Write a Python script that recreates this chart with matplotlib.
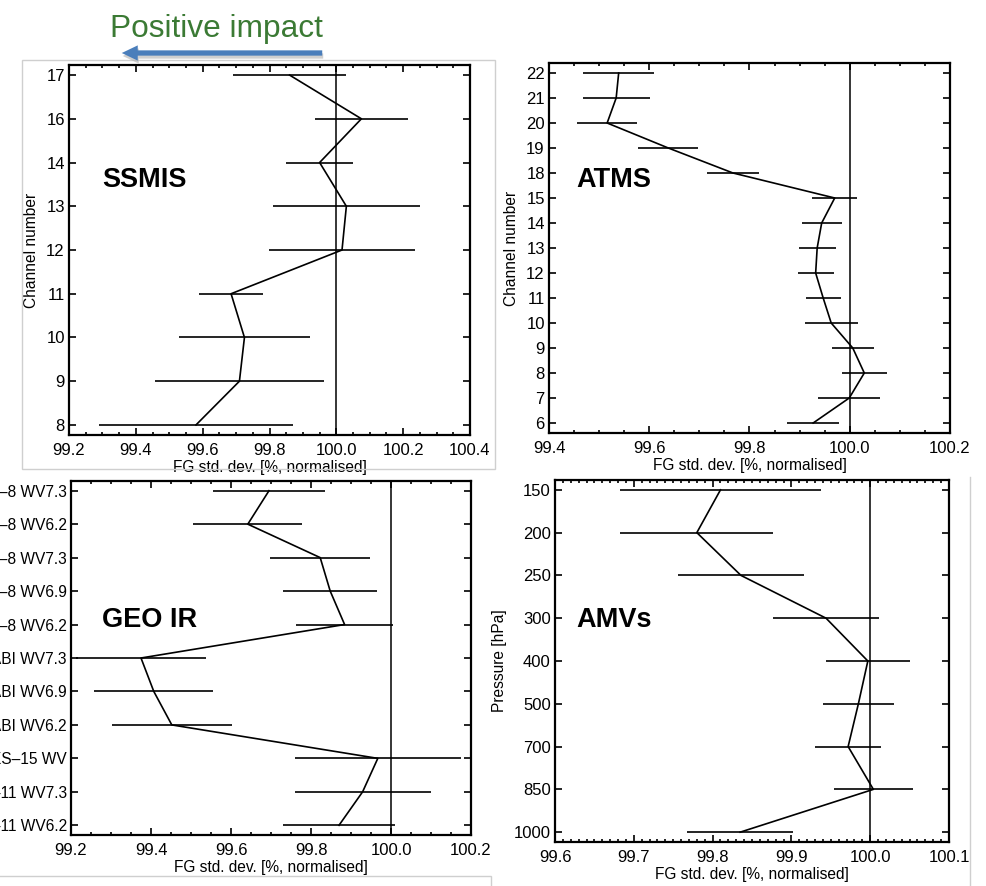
import matplotlib
matplotlib.use("Agg")
import matplotlib.pyplot as plt
import numpy as np
from matplotlib.patches import Rectangle, FancyArrowPatch
from matplotlib.ticker import MultipleLocator

plt.rcParams['font.family'] = ['Liberation Sans', 'DejaVu Sans']

# SSMIS channels (top to bottom)
ssmis_labels = ['17', '16', '14', '13', '12', '11', '10', '9', '8']
ssmis_mean = [99.86, 100.075, 99.95, 100.03, 100.017, 99.685, 99.725, 99.71, 99.58]
ssmis_err = [0.168, 0.14, 0.10, 0.22, 0.218, 0.095, 0.195, 0.253, 0.29]

# ATMS channels
atms_labels = ['22', '21', '20', '19', '18', '15', '14', '13', '12', '11', '10', '9', '8', '7', '6']
atms_mean = [99.539, 99.534, 99.516, 99.638, 99.767, 99.97, 99.944, 99.935, 99.932,
             99.947, 99.963, 100.006, 100.029, 99.999, 99.927]
atms_err = [0.071, 0.067, 0.06, 0.06, 0.052, 0.045, 0.04, 0.037, 0.036,
            0.035, 0.053, 0.042, 0.045, 0.062, 0.052]

# geostationary IR radiances
geo_labels = ['Meteosat–8 WV7.3', 'Meteosat–8 WV6.2', 'Himawari–8 WV7.3', 'Himawari–8 WV6.9',
              'Himawari–8 WV6.2', 'GOES–16 ABI WV7.3', 'GOES–16 ABI WV6.9', 'GOES–16 ABI WV6.2',
              'GOES–15 WV', 'Meteosat–11 WV7.3', 'Meteosat–11 WV6.2']
geo_mean = [99.695, 99.642, 99.823, 99.848, 99.884, 99.375, 99.407, 99.452, 99.967, 99.929, 99.87]
geo_err = [0.139, 0.136, 0.125, 0.118, 0.122, 0.163, 0.149, 0.15, 0.208, 0.17, 0.139]

# AMVs by pressure level
amv_labels = ['150', '200', '250', '300', '400', '500', '700', '850', '1000']
amv_mean = [99.81, 99.78, 99.836, 99.944, 99.997, 99.985, 99.972, 100.004, 99.835]
amv_err = [0.128, 0.097, 0.08, 0.067, 0.053, 0.045, 0.042, 0.05, 0.067]

W, H = 987, 886
fig = plt.figure(figsize=(W / 100, H / 100), dpi=100)


def px_axes(x0, y0, x1, y1):
    return fig.add_axes([x0 / W, 1 - y1 / H, (x1 - x0) / W, (y1 - y0) / H])


def profile(ax, labels, mean, err, xlim, major, minor, pad, ylabel, name, name_xy, ysize=12):
    y = np.arange(len(labels))
    ax.errorbar(mean, y, xerr=err, fmt='none', ecolor='black', elinewidth=1.2, capsize=0)
    ax.plot(mean, y, color='black', lw=1.2)
    ax.axvline(100.0, color='black', lw=1.1)
    ax.set_xlim(*xlim)
    ax.set_ylim(len(labels) - 1 + pad, -pad)
    ax.set_yticks(y)
    ax.set_yticklabels(labels, fontsize=ysize)
    ax.xaxis.set_major_locator(MultipleLocator(major))
    ax.xaxis.set_minor_locator(MultipleLocator(minor))
    ax.xaxis.set_major_formatter(lambda v, p: f'{v:.1f}')
    ax.tick_params(which='both', direction='in', top=True, right=True, width=1.2)
    ax.tick_params(axis='x', labelsize=12)
    ax.tick_params(which='major', length=5)
    ax.tick_params(axis='x', which='major', pad=6)
    ax.tick_params(axis='y', which='major', pad=3)
    ax.tick_params(which='minor', length=2.5)
    ax.tick_params(axis='y', which='minor', left=False, right=False)
    for s in ax.spines.values():
        s.set_linewidth(1.6)
    ax.set_xlabel('FG std. dev. [%, normalised]', fontsize=11.2, labelpad=1)
    if ylabel:
        ax.set_ylabel(ylabel, fontsize=11.2, labelpad=5)
    fig.text(name_xy[0] / W, 1 - name_xy[1] / H, name, fontsize=19.5, fontweight='bold',
             ha='left', va='center')


# light frames around each pasted plot
frame = dict(fill=False, edgecolor='#cfcfcf', lw=1, transform=fig.transFigure)
fig.add_artist(Rectangle((22 / W, 1 - 469 / H), 473 / W, 409 / H, **frame))
fig.add_artist(Rectangle((-0.01, 1 - 905 / H), 501 / W, 29 / H, **frame))
fig.add_artist(plt.Line2D([970 / W, 970 / W], [1 - 477 / H, 0], color='#cfcfcf', lw=1,
                          transform=fig.transFigure))

ax1 = px_axes(69, 65, 470, 435)
profile(ax1, ssmis_labels, ssmis_mean, ssmis_err, (99.2, 100.4), 0.2, 0.05, 0.23,
        'Channel number', 'SSMIS', (102, 180))

ax2 = px_axes(549, 63, 950, 433)
profile(ax2, atms_labels, atms_mean, atms_err, (99.4, 100.2), 0.2, 0.05, 0.4,
        'Channel number', 'ATMS', (576, 180))

ax3 = px_axes(71, 481, 471, 835)
profile(ax3, geo_labels, geo_mean, geo_err, (99.2, 100.2), 0.2, 0.05, 0.29,
        None, 'GEO IR', (102, 620), ysize=11.2)

ax4 = px_axes(555, 480, 949, 842)
profile(ax4, amv_labels, amv_mean, amv_err, (99.6, 100.1), 0.1, 0.01, 0.23,
        'Pressure [hPa]', 'AMVs', (576, 620))

# arrow showing direction of positive impact
tail = (325 / W, 1 - 53 / H)
head = (119 / W, 1 - 53 / H)
style = 'simple,head_length=11.5,head_width=11,tail_width=3.8'
shadow = FancyArrowPatch((tail[0] + 1 / W, tail[1] - 3 / H), (head[0] + 1 / W, head[1] - 3 / H),
                         arrowstyle=style, mutation_scale=1, color='#b0b0b0', alpha=0.6,
                         lw=0, transform=fig.transFigure)
fig.add_artist(shadow)
arrow = FancyArrowPatch(tail, head, arrowstyle=style, mutation_scale=1, color='#4a7ebb',
                        lw=0, transform=fig.transFigure)
fig.add_artist(arrow)
fig.text(110 / W, 1 - 37 / H, 'Positive impact', fontsize=22.8, color='#3b7a34',
         ha='left', va='baseline')

fig.savefig('out.png', dpi=100)
